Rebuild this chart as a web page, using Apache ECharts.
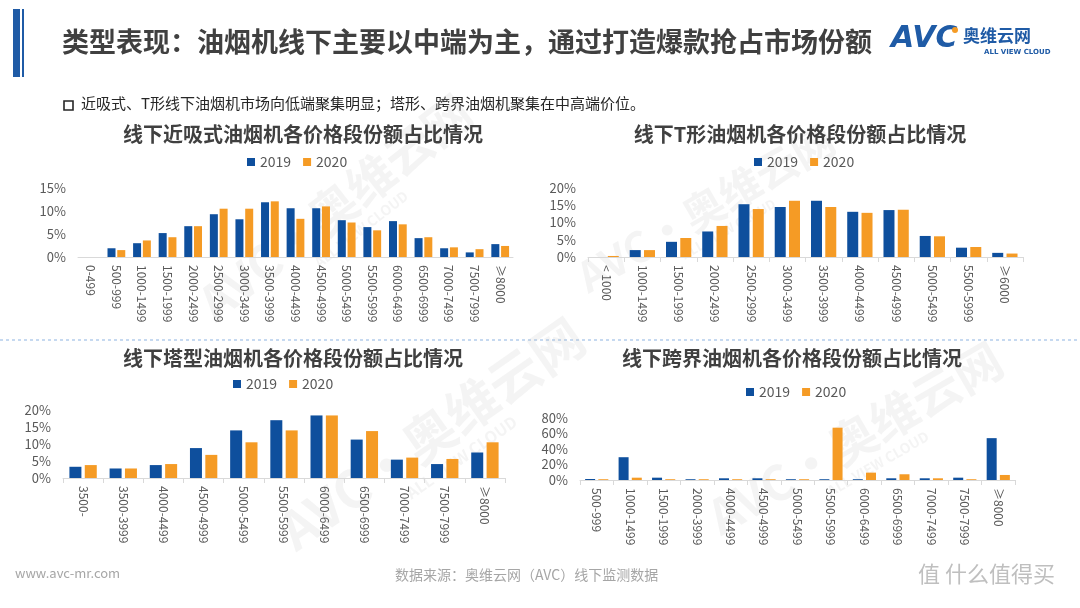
<!DOCTYPE html>
<html>
<head>
<meta charset="utf-8">
<script src="https://cdn.jsdelivr.net/npm/echarts@6/dist/echarts.min.js"></script>
<style>
html,body{margin:0;padding:0;background:#fff;}
#c{width:1080px;height:608px;}
</style>
</head>
<body>
<div id="c"></div>
<script>
// ---- Data ----
const years = ['2019', '2020'];

const catsNear = ['0-499','500-999','1000-1499','1500-1999','2000-2499','2500-2999','3000-3499','3500-3999','4000-4499','4500-4999','5000-5499','5500-5999','6000-6499','6500-6999','7000-7499','7500-7999','≥8000'];
const near2019 = [0, 1.9, 3.0, 5.2, 6.7, 9.3, 8.2, 11.9, 10.6, 10.6, 8.0, 6.5, 7.8, 4.1, 1.9, 1.0, 2.8];
const near2020 = [0, 1.5, 3.6, 4.3, 6.7, 10.5, 10.5, 12.1, 8.3, 11.0, 7.5, 5.8, 7.1, 4.3, 2.1, 1.7, 2.4];

const catsT = ['< 1000','1000-1499','1500-1999','2000-2499','2500-2999','3000-3499','3500-3999','4000-4499','4500-4999','5000-5499','5500-5999','≥6000'];
const t2019 = [0, 2.0, 4.4, 7.4, 15.3, 14.5, 16.3, 13.1, 13.6, 6.1, 2.7, 1.2];
const t2020 = [0.3, 2.0, 5.5, 9.0, 13.9, 16.3, 14.5, 12.8, 13.7, 6.0, 2.9, 1.0];

const catsTower = ['3500-','3500-3999','4000-4499','4500-4999','5000-5499','5500-5999','6000-6499','6500-6999','7000-7499','7500-7999','≥8000'];
const tower2019 = [3.3, 2.8, 3.8, 8.8, 14.0, 17.0, 18.4, 11.3, 5.4, 4.1, 7.5];
const tower2020 = [3.8, 2.8, 4.1, 6.8, 10.5, 14.0, 18.4, 13.8, 6.0, 5.6, 10.5];

const catsCross = ['500-999','1000-1499','1500-1999','2000-3999','4000-4499','4500-4999','5000-5499','5500-5999','6000-6499','6500-6999','7000-7499','7500-7999','≥8000'];
const cross2019 = [1.3, 29.4, 3.0, 1.0, 2.2, 2.2, 1.0, 1.0, 1.0, 2.2, 2.2, 3.0, 54];
const cross2020 = [1.0, 3.0, 1.0, 1.0, 1.0, 1.0, 1.0, 67.5, 9.5, 7.4, 2.2, 1.0, 6.5];

const yTicksPct = { near: [0, 15, 5], t: [0, 20, 5], tower: [0, 20, 5], cross: [0, 80, 20] };

const chartTitles = ['线下近吸式油烟机各价格段份额占比情况','线下T形油烟机各价格段份额占比情况','线下塔型油烟机各价格段份额占比情况','线下跨界油烟机各价格段份额占比情况'];

// ---- Styles ----
const BLUE = '#0E4F9D', ORANGE = '#F59B25';
const FONT = '"Noto Sans CJK SC", "Noto Sans", sans-serif';
const grey = '#595959';

const panels = [
  { cats: catsNear, d: [near2019, near2020], y: yTicksPct.near, grid: {left: 78, right: 567, top: 188, bottom: 351}, bw: 8, gap: '22%', tick: false, title: [298, 119], legendTop: 150, legendC: 290 },
  { cats: catsT, d: [t2019, t2020], y: yTicksPct.t, grid: {left: 588, right: 57, top: 188, bottom: 351}, bw: 11, gap: '30%', tick: true, title: [795, 119], legendTop: 150, legendC: 797 },
  { cats: catsTower, d: [tower2019, tower2020], y: yTicksPct.tower, grid: {left: 63, right: 575, top: 410, bottom: 130}, bw: 12, gap: '28%', tick: true, title: [288, 343], legendTop: 372, legendC: 276 },
  { cats: catsCross, d: [cross2019, cross2020], y: yTicksPct.cross, grid: {left: 580, right: 65, top: 418, bottom: 128}, bw: 10, gap: '32%', tick: true, title: [787, 343], legendTop: 380, legendC: 789 }
];

const option = {
  animation: false,
  backgroundColor: '#fff',
  textStyle: { fontFamily: FONT },
  title: panels.map((p, i) => ({
    text: chartTitles[i], left: p.title[0], top: p.title[1], textAlign: 'center',
    textStyle: { fontFamily: FONT, fontSize: 20, fontWeight: 'bold', color: '#404040' }
  })),
  legend: panels.map((p, i) => ({
    data: years, top: p.legendTop, left: p.legendC - 48,
    icon: 'rect', itemWidth: 8, itemHeight: 8, itemGap: 12,
    textStyle: { fontSize: 14, color: grey, fontFamily: FONT }
  })),
  grid: panels.map(p => Object.assign({ containLabel: false }, p.grid)),
  xAxis: panels.map((p, i) => ({
    type: 'category', gridIndex: i, data: p.cats,
    axisLine: { lineStyle: { color: '#D9D9D9' } },
    axisTick: { show: p.tick, length: 5, lineStyle: { color: '#D9D9D9' } },
    axisLabel: { rotate: -90, interval: 0, color: grey, fontSize: 12, margin: 8, fontFamily: FONT }
  })),
  yAxis: panels.map((p, i) => ({
    type: 'value', gridIndex: i, min: p.y[0], max: p.y[1], interval: p.y[2],
    splitLine: { show: false }, axisLine: { show: false }, axisTick: { show: false },
    axisLabel: { formatter: '{value}%', color: grey, fontSize: 13, margin: 12, fontFamily: FONT }
  })),
  series: []
};

panels.forEach((p, i) => {
  years.forEach((yr, k) => {
    option.series.push({
      name: yr, type: 'bar', xAxisIndex: i, yAxisIndex: i,
      data: p.d[k], barWidth: p.bw, barGap: p.gap,
      itemStyle: { color: k === 0 ? BLUE : ORANGE }
    });
  });
});

// watermark helper
function wm(x, y, rot, size) {
  return {
    type: 'group', x: x, y: y, rotation: rot * Math.PI / 180, silent: true, z: -1,
    children: [
      { type: 'text', style: { text: 'AVC·奥维云网', font: 'bold ' + size + 'px ' + FONT, fill: 'rgba(190,190,190,0.17)' } },
      { type: 'text', x: size * 2.4, y: size * 1.05, style: { text: 'ALL VIEW CLOUD', font: 'bold ' + Math.round(size * 0.3) + 'px ' + FONT, fill: 'rgba(190,190,190,0.17)' } }
    ]
  };
}

option.graphic = [
  // header bars
  { type: 'rect', shape: { x: 13, y: 9, width: 7, height: 68 }, style: { fill: '#1F5BA6' } },
  { type: 'rect', shape: { x: 22, y: 9, width: 2, height: 68 }, style: { fill: '#1F5BA6' } },
  { type: 'text', x: 62, y: 28, style: { text: '类型表现：油烟机线下主要以中端为主，通过打造爆款抢占市场份额', font: 'bold 27px ' + FONT, fill: '#404040' } },
  // logo
  { type: 'text', x: 891, y: 24, style: { text: 'AVC', font: 'italic bold 30px "DejaVu Sans", sans-serif', fill: '#1F5BA6' } },
  { type: 'circle', shape: { cx: 955, cy: 30, r: 3 }, style: { fill: '#F59B25' } },
  { type: 'text', x: 963, y: 27, style: { text: '奥维云网', font: 'bold 17px ' + FONT, fill: '#1F5BA6' } },
  { type: 'text', x: 984, y: 49, style: { text: 'ALL VIEW CLOUD', font: 'bold 7px "DejaVu Sans", sans-serif', fill: '#1F5BA6' } },
  // subtitle
  { type: 'rect', shape: { x: 64, y: 101, width: 9, height: 9 }, style: { fill: 'none', stroke: '#262626', lineWidth: 1.6 } },
  { type: 'text', x: 81, y: 96, style: { text: '近吸式、T形线下油烟机市场向低端聚集明显；塔形、跨界油烟机聚集在中高端价位。', font: '15px ' + FONT, fill: '#262626' } },
  // separator
  { type: 'line', shape: { x1: 0, y1: 340, x2: 1080, y2: 340 }, style: { stroke: '#8DB4E2', lineWidth: 1, lineDash: [3, 3] } },
  // footer
  { type: 'text', x: 15, y: 567, style: { text: 'www.avc-mr.com', font: '13px ' + FONT, fill: '#A6A6A6' } },
  { type: 'text', x: 395, y: 568, style: { text: '数据来源：奥维云网（AVC）线下监测数据', font: '14px ' + FONT, fill: '#A6A6A6' } },
  { type: 'text', x: 918, y: 563, style: { text: '值 什么值得买', font: '22px ' + FONT, fill: '#BFBFBF' } },
  // watermarks
  wm(190, 290, 38, 48),
  wm(570, 262, 30, 42),
  wm(270, 515, 35, 52),
  wm(700, 500, 30, 48)
];

const chart = echarts.init(document.getElementById('c'), null, { renderer: 'canvas' });
chart.setOption(option);
</script>
</body>
</html>
